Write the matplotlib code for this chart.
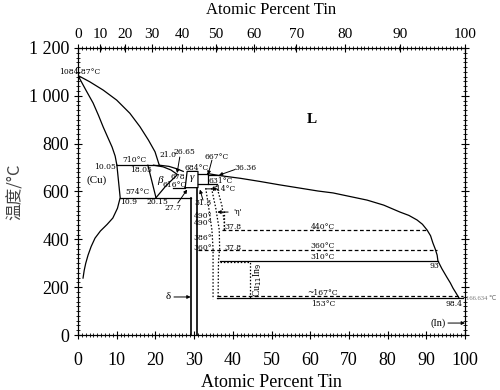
import numpy as np
import matplotlib
matplotlib.use("Agg")
import matplotlib.pyplot as plt

plt.rcParams['font.family'] = ['Liberation Serif', 'DejaVu Sans']

# tick positions of the top (weight) scale in bottom-axis units
top_pos = [0, 5.8, 12.2, 19.2, 27.0, 35.6, 45.4, 56.4, 68.9, 83.3, 100]
top_lab = ["0", "10", "20", "30", "40", "50", "60", "70", "80", "90", "100"]
y_ticks = [0, 200, 400, 600, 800, 1000, 1200]
y_labs = ["0", "200", "400", "600", "800", "1 000", "1 200"]

# solid boundaries (x: at.%, y: degC)
liq_cu_x = [0, 3.0, 6.5, 10.0, 13.4, 16.0, 18.2, 19.9, 21.0]
liq_cu_y = [1084.87, 1059, 1024, 982, 927, 871, 815, 766, 710]
sol_cu_x = [0, 2.0, 3.9, 5.3, 6.5, 7.7, 8.8, 9.6, 10.05]
sol_cu_y = [1084.87, 1025, 970, 918, 870, 826, 786, 748, 710]
solvus_x = [10.05, 10.9, 10.2, 9.0, 7.5, 5.8, 4.4, 3.4, 2.6, 2.0, 1.6, 1.3]
solvus_y = [710, 574, 530, 489, 462, 435, 405, 370, 334, 300, 270, 238]
liq_in_x = [33.5, 36.36, 42, 47, 52, 57.4, 62, 65.9, 70, 74.7, 79, 83.2, 85.5, 87.6,
            89, 90.2, 91.1, 91.7, 92.3, 92.8, 93.0, 94.0, 95.3, 96.2, 96.9, 97.7, 98.4]
liq_in_y = [675, 667, 655, 642, 628, 614, 602, 594, 580, 564, 543, 514, 500, 481,
            463, 439, 415, 385, 360, 334, 310, 278, 242, 218, 196, 175, 156]
beta_l_x = [18.05, 20.15]
beta_l_y = [710, 574]
beta_r_x = [20.15, 22.8, 25.6]
beta_r_y = [574, 625, 669]
arc_a_x = [19.5, 22.0, 24.0, 25.6]
arc_a_y = [710, 703, 690, 672]
arc_b_x = [21.0, 23.5, 25.5, 27.2]
arc_b_y = [710, 705, 695, 684]
gam_x = [27.7, 28.2, 31.0, 31.0, 27.7]
gam_y = [616, 684, 684, 616, 616]
box_x = [31.0, 33.5, 33.5, 31.0]
box_y = [675, 675, 631, 631]

horiz_solid = {
    710: (10.05, 21.0),
    574: (10.9, 29.1),
    616: (24.6, 27.7),
    667: (33.5, 36.36),
    631: (33.5, 36.0),
    310: (36.7, 93.0),
    153: (35.9, 99.5),
}
horiz_dash = {
    440: (37.2, 90.2),
    357: (31.0, 92.8),
    161: (35.9, 99.5),
}
delta_x = [29.1, 30.7]
delta_top = [574, 616]

# dotted eta boundaries
eta_a_x = [33.0, 33.8, 34.6, 34.9, 34.9, 34.9]
eta_a_y = [614, 530, 440, 360, 310, 150]
eta_b_x = [34.5, 35.6, 36.5, 36.6, 36.3, 36.2]
eta_b_y = [614, 530, 440, 360, 310, 150]
eta_c_x = [35.8, 37.2, 37.8, 37.8]
eta_c_y = [625, 540, 470, 440]
cu11_x = [36.7, 44.4, 44.4]
cu11_y = [305, 305, 156]

labels = [
    (0.4, 1099, "1084.87°C"), (6.9, 702, "10.05"), (14.7, 733, "710°C"),
    (16.2, 690, "18.05"), (23.3, 752, "21.0"), (27.6, 767, "26.65"),
    (25.8, 660, "678"), (25.0, 629, "616°C"), (30.7, 700, "684°C"),
    (35.8, 746, "667°C"), (43.3, 700, "36.36"), (36.9, 642, "631°C"),
    (37.5, 611, "614°C"), (15.5, 596, "574°C"), (13.0, 556, "10.9"),
    (20.4, 556, "20.15"), (24.6, 531, "27.7"), (32.2, 552, "31.3"),
    (41.2, 514, "'η'"), (32.3, 497, "490°"), (32.3, 468, "490°"),
    (40.0, 451, "37.8"), (32.3, 405, "386°"), (32.3, 364, "360°"),
    (40.0, 364, "37.8"), (63.3, 453, "440°C"), (63.3, 372, "360°C"),
    (63.3, 326, "310°C"), (92.2, 288, "93"), (63.3, 176, "~167°C"),
    (63.3, 130, "153°C"), (97.1, 130, "98.4"),
]
arrows = [
    ((26.3, 744), (25.6, 677)), ((34.6, 731), (33.6, 670)),
    ((40.6, 692), (36.4, 668)), ((25.8, 552), (28.2, 608)),
    ((32.3, 564), (31.5, 608)), ((33.0, 611), (36.0, 611)),
    ((38.8, 514), (36.0, 514)), ((24.8, 159), (29.1, 159)),
    ((95.6, 50), (100, 50)),
]

fig = plt.figure(figsize=(5, 3.9), dpi=100)
ax = fig.add_axes([0.156, 0.141, 0.774, 0.736])
lk = dict(color='black', lw=0.9)

ax.plot(liq_cu_x, liq_cu_y, **lk)
ax.plot(sol_cu_x, sol_cu_y, **lk)
ax.plot(solvus_x, solvus_y, **lk)
ax.plot(liq_in_x, liq_in_y, **lk)
ax.plot(beta_l_x, beta_l_y, **lk)
ax.plot(beta_r_x, beta_r_y, **lk)
ax.plot(arc_a_x, arc_a_y, **lk)
ax.plot(arc_b_x, arc_b_y, **lk)
ax.plot(gam_x, gam_y, **lk)
ax.plot(box_x, box_y, **lk)
for t, (x0, x1) in horiz_solid.items():
    ax.plot([x0, x1], [t, t], **lk)
for t, (x0, x1) in horiz_dash.items():
    ax.plot([x0, x1], [t, t], color='black', lw=0.9, ls=(0, (3, 2)))
for xv, tp in zip(delta_x, delta_top):
    ax.plot([xv, xv], [tp, 0], color='black', lw=1.2)
for xs, ys in [(eta_a_x, eta_a_y), (eta_b_x, eta_b_y), (eta_c_x, eta_c_y), (cu11_x, cu11_y)]:
    ax.plot(xs, ys, color='black', lw=0.9, ls=(0, (1.2, 1.5)))
ax.plot([37.8, 37.8], [520, 440], color='black', lw=0.9, ls=(0, (1.2, 1.5)))

for x, y, s in labels:
    ax.text(x, y, s, fontsize=5.5, ha='center', va='center', family=['DejaVu Serif'])
for (x0, y0), (x1, y1) in arrows:
    ax.annotate('', xy=(x1, y1), xytext=(x0, y0),
                arrowprops=dict(arrowstyle='-|>', lw=0.7, color='black', mutation_scale=5,
                                shrinkA=0, shrinkB=0))

ax.text(60.5, 899, "L", fontsize=11, fontweight='bold', ha='center', va='center')
ax.text(4.9, 648, "(Cu)", fontsize=8, ha='center', va='center')
ax.text(21.2, 648, "β", fontsize=8, style='italic', ha='center', va='center')
ax.text(29.5, 660, "γ", fontsize=8, style='italic', ha='center', va='center')
ax.text(23.3, 159, "δ", fontsize=8, ha='center', va='center')
ax.text(93.0, 50, "(In)", fontsize=7.5, ha='center', va='center')
ax.text(46.3, 232, "Cu$_{11}$In$_9$", fontsize=7, rotation=90, ha='center', va='center')
ax.text(100.3, 154, "166.634 ℃", fontsize=4.8, color='#777777', ha='left', va='center',
        clip_on=False)

ax.set_xlim(0, 100)
ax.set_ylim(0, 1200)
ax.set_xticks(range(0, 101, 10))
ax.set_xticks(range(0, 101, 1), minor=True)
ax.set_yticks(y_ticks)
ax.set_yticklabels(y_labs)
ax.set_yticks(range(0, 1201, 20), minor=True)
ax.tick_params(which='both', direction='inout', right=True, labelsize=13, width=0.8)
ax.tick_params(which='major', length=6)
ax.tick_params(which='minor', length=2.5, width=0.6)
ax.tick_params(axis='x', pad=9)
ax.set_xlabel("Atomic Percent Tin", fontsize=13, labelpad=4)
ax.set_ylabel("温度/°C", fontsize=12, family=['Noto Sans CJK SC', 'DejaVu Sans'],
              color='#444444')
ax.yaxis.set_label_coords(-0.14, 0.5)

top = ax.twiny()
top.set_xlim(0, 100)
top.set_xticks(top_pos)
top.set_xticklabels(top_lab)
top.set_xticks(range(0, 101, 1), minor=True)
top.tick_params(which='both', direction='inout', labelsize=11, width=0.8, pad=2)
top.tick_params(which='major', length=6)
top.tick_params(which='minor', length=2.5, width=0.6)
top.set_xlabel("Atomic Percent Tin", fontsize=12, labelpad=10)

fig.savefig("out.png", dpi=100)
